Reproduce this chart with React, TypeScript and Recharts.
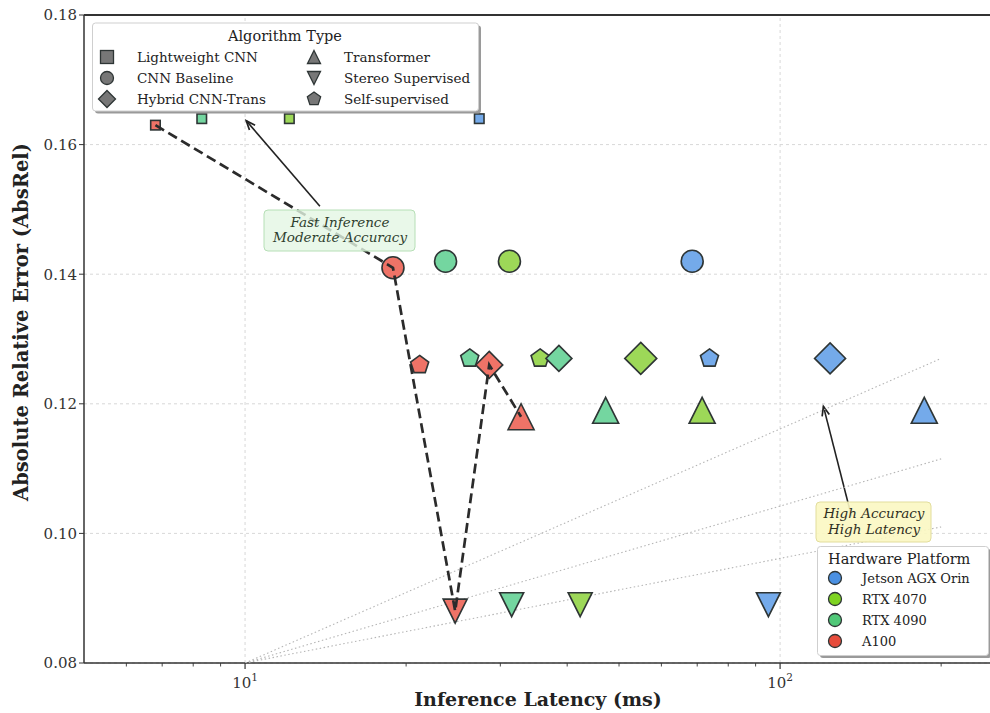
import { ScatterChart, Scatter, XAxis, YAxis, CartesianGrid, ReferenceLine } from "recharts"

const hardware = ["Jetson AGX Orin", "RTX 4070", "RTX 4090", "A100"]
const algorithms = ["Lightweight CNN", "CNN Baseline", "Hybrid CNN-Trans", "Transformer", "Stereo Supervised", "Self-supervised"]

// latency (ms) per platform, in algorithm order
const jetsonLatency = [27.4, 68.5, 124, 186, 95.1, 73.8]
const rtx4070Latency = [12.1, 31.2, 54.9, 71.5, 42.3, 35.6]
const rtx4090Latency = [8.3, 23.7, 38.6, 47.2, 31.5, 26.3]
const a100Latency = [6.8, 18.9, 28.6, 32.8, 24.7, 21.2]

// AbsRel per platform, in algorithm order
const jetsonError = [0.164, 0.142, 0.127, 0.119, 0.089, 0.127]
const rtx4070Error = [0.164, 0.142, 0.127, 0.119, 0.089, 0.127]
const rtx4090Error = [0.164, 0.142, 0.127, 0.119, 0.089, 0.127]
const a100Error = [0.163, 0.141, 0.126, 0.118, 0.088, 0.126]

// A100 front, sorted by latency
const paretoOrder = [0, 1, 4, 2, 3]
// dotted guide lines from (10, 0.08) to (200, end)
const guideStart = { x: 10, y: 0.08 }
const guideEndX = 200
const guideEndY = [0.127, 0.1115, 0.101]

const xTicks = [6, 7, 8, 9, 10, 20, 30, 40, 50, 60, 70, 80, 90, 100, 200]
const yTicks = [0.08, 0.1, 0.12, 0.14, 0.16, 0.18]

const latencies = [jetsonLatency, rtx4070Latency, rtx4090Latency, a100Latency]
const errors = [jetsonError, rtx4070Error, rtx4090Error, a100Error]

const fillColors = ["#74aaea", "#9dd858", "#74d6a0", "#ef7367"]
const legendColors = ["#4a90e2", "#7ed321", "#50c878", "#e74c3c"]
const algoKinds = ["square", "circle", "diamond", "triangle", "down", "pentagon"]
const algoSize = [9.5, 22, 28, 26, 24, 19]
const diamondSize = [31, 32, 26, 27]

const FONT = "'DejaVu Serif', serif"
const EDGE = "#2e3535"

function shapePath(kind: string, cx: number, cy: number, s: number) {
  const h = s / 2
  if (kind === "diamond") return `M${cx},${cy - h}L${cx + h},${cy}L${cx},${cy + h}L${cx - h},${cy}Z`
  if (kind === "triangle") return `M${cx},${cy - h}L${cx + h},${cy + h}L${cx - h},${cy + h}Z`
  if (kind === "down") return `M${cx},${cy + h}L${cx + h},${cy - h}L${cx - h},${cy - h}Z`
  if (kind === "pentagon") {
    let d = ""
    for (let i = 0; i < 5; i++) {
      const a = -Math.PI / 2 + (i * 2 * Math.PI) / 5
      d += (i ? "L" : "M") + (cx + h * Math.cos(a)) + "," + (cy + h * Math.sin(a))
    }
    return d + "Z"
  }
  return ""
}

function MarkerShape({ kind, cx, cy, size, fill, sw = 1.6 }: any) {
  if (kind === "circle") return <circle cx={cx} cy={cy} r={size / 2} fill={fill} stroke={EDGE} strokeWidth={sw} />
  if (kind === "square")
    return <rect x={cx - size / 2} y={cy - size / 2} width={size} height={size} fill={fill} stroke={EDGE} strokeWidth={sw} />
  return <path d={shapePath(kind, cx, cy, size)} fill={fill} stroke={EDGE} strokeWidth={sw} strokeLinejoin="miter" />
}

const renderPoint = (props: any) => {
  const { cx, cy, payload } = props
  const kind = algoKinds[payload.algo]
  const size = kind === "diamond" ? diamondSize[payload.hw] : algoSize[payload.algo]
  return <MarkerShape kind={kind} cx={cx} cy={cy} size={size} fill={fillColors[payload.hw]} />
}

const XTick = (props: any) => {
  const { x, y, payload } = props
  const v = payload.value
  const major = v === 10 || v === 100
  return (
    <g>
      <line x1={x} x2={x} y1={y} y2={y + (major ? 6 : 3.5)} stroke="#333" strokeWidth={major ? 1.2 : 0.9} />
      {major && (
        <text x={x} y={y + 25} textAnchor="middle" fontFamily={FONT} fontSize={15} fill="#333">
          10<tspan dy={-7} fontSize={10.5}>{v === 10 ? "1" : "2"}</tspan>
        </text>
      )}
    </g>
  )
}

const arrowShape = (props: any) => {
  const { x1, y1, x2, y2 } = props
  const ang = Math.atan2(y2 - y1, x2 - x1)
  const L = 10
  const a1 = ang + Math.PI - 0.38
  const a2 = ang + Math.PI + 0.38
  return (
    <g>
      <line x1={x1} y1={y1} x2={x2} y2={y2} stroke="#222" strokeWidth={1.6} />
      <polyline
        points={`${x2 + L * Math.cos(a1)},${y2 + L * Math.sin(a1)} ${x2},${y2} ${x2 + L * Math.cos(a2)},${y2 + L * Math.sin(a2)}`}
        fill="none"
        stroke="#222"
        strokeWidth={1.7}
      />
    </g>
  )
}

const noDot = () => <g />

export default function App() {
  const algoData = algorithms.map((_, ai) =>
    hardware.map((_, hi) => ({ x: latencies[hi][ai], y: errors[hi][ai], hw: hi, algo: ai }))
  )
  const pareto = paretoOrder.map((i) => ({ x: a100Latency[i], y: a100Error[i] }))
  const guides = guideEndY.map((ey) => [guideStart, { x: guideEndX, y: ey }])
  const drawOrder = [5, 0, 1, 2, 3, 4]

  return (
    <div style={{ position: "absolute", left: 0, top: 0, width: 990, height: 713, overflow: "hidden", background: "#fff" }}>
      <ScatterChart width={1000} height={713} margin={{ top: 15, right: 7, bottom: 0, left: 0 }}>
        <CartesianGrid vertical={false} stroke="#d8d8d8" strokeDasharray="3 3" />
        <ReferenceLine x={10} stroke="#d8d8d8" strokeDasharray="3 3" />
        <ReferenceLine x={100} stroke="#d8d8d8" strokeDasharray="3 3" />
        <XAxis
          type="number"
          dataKey="x"
          scale="log"
          domain={[5, 250]}
          ticks={xTicks}
          allowDataOverflow
          height={50}
          tickLine={false}
          tickSize={0}
          tickMargin={0}
          tick={<XTick />}
          axisLine={{ stroke: "#333", strokeWidth: 1.5 }}
          interval={0}
        />
        <YAxis
          type="number"
          dataKey="y"
          domain={[0.08, 0.18]}
          ticks={yTicks}
          width={84}
          tickFormatter={(v: number) => v.toFixed(2)}
          tick={{ fontFamily: FONT, fontSize: 15, fill: "#333" }}
          tickLine={{ stroke: "#333" }}
          tickSize={5}
          axisLine={{ stroke: "#333", strokeWidth: 1.5 }}
          allowDataOverflow
        />
        <ReferenceLine y={0.18} stroke="#333" strokeWidth={2} />
        {guides.map((g, i) => (
          <Scatter
            key={"g" + i}
            data={g}
            line={{ stroke: "#b5b5b5", strokeWidth: 1.1, strokeDasharray: "1.5 2.5" }}
            shape={noDot}
            isAnimationActive={false}
          />
        ))}
        {drawOrder.map((ai) => (
          <Scatter key={"a" + ai} data={algoData[ai]} shape={renderPoint} isAnimationActive={false} />
        ))}
        <Scatter
          data={pareto}
          line={{ stroke: "#2b2b2b", strokeWidth: 2.7, strokeDasharray: "10 5" }}
          shape={noDot}
          isAnimationActive={false}
        />
        <ReferenceLine
          segment={[{ x: 13.8, y: 0.1505 }, { x: 10.05, y: 0.1637 }]}
          shape={arrowShape}
          ifOverflow="visible"
        />
        <ReferenceLine
          segment={[{ x: 136, y: 0.1026 }, { x: 120.5, y: 0.1196 }]}
          shape={arrowShape}
          ifOverflow="visible"
        />
      </ScatterChart>

      <svg width={990} height={713} style={{ position: "absolute", left: 0, top: 0, pointerEvents: "none" }}>
        {/* axis titles */}
        <text x={538} y={706} textAnchor="middle" fontFamily={FONT} fontWeight="bold" fontSize={19} fill="#222">
          Inference Latency (ms)
        </text>
        <text
          x={0}
          y={0}
          transform="translate(28,322) rotate(-90)"
          textAnchor="middle"
          fontFamily={FONT}
          fontWeight="bold"
          fontSize={19.5}
          fill="#222"
        >
          Absolute Relative Error (AbsRel)
        </text>

        {/* annotation boxes */}
        <rect x={264} y={210} width={151} height={41} rx={4} fill="#e4f6e4" fillOpacity={0.8} stroke="#b6dfb6" />
        <text x={340} y={227} textAnchor="middle" fontFamily={FONT} fontStyle="italic" fontSize={13.5} fill="#2e3e2e">
          Fast Inference
        </text>
        <text x={340} y={242} textAnchor="middle" fontFamily={FONT} fontStyle="italic" fontSize={13.5} fill="#2e3e2e">
          Moderate Accuracy
        </text>
        <rect x={816} y={502} width={115} height={40} rx={4} fill="#fbf7c2" fillOpacity={0.9} stroke="#e2dd9c" />
        <text x={874} y={518} textAnchor="middle" fontFamily={FONT} fontStyle="italic" fontSize={13.5} fill="#2e2e22">
          High Accuracy
        </text>
        <text x={874} y={534} textAnchor="middle" fontFamily={FONT} fontStyle="italic" fontSize={13.5} fill="#2e2e22">
          High Latency
        </text>

        {/* algorithm legend */}
        <rect x={95} y={25.5} width={386} height={88} rx={3} fill="#9a9a9a" />
        <rect x={92.5} y={23} width={386} height={88} rx={3} fill="#fff" stroke="#cfcfcf" />
        <text x={285} y={41} textAnchor="middle" fontFamily={FONT} fontSize={14.5} fill="#222">
          Algorithm Type
        </text>
        {algorithms.map((a, i) => {
          const col = Math.floor(i / 3)
          const row = i % 3
          const mx = col === 0 ? 107 : 314
          const my = 57 + row * 21
          const kind = algoKinds[i]
          const s = kind === "circle" ? 13 : kind === "diamond" ? 17 : kind === "pentagon" ? 14 : 13
          return (
            <g key={a}>
              <MarkerShape kind={kind} cx={mx} cy={my} size={s} fill="#777" sw={1.3} />
              <text x={mx + 30} y={my + 5} fontFamily={FONT} fontSize={13.5} fill="#222">
                {a}
              </text>
            </g>
          )
        })}

        {/* hardware legend */}
        <rect x={820} y={549} width={171} height={109} rx={3} fill="#9a9a9a" />
        <rect x={817.5} y={546.5} width={171} height={109} rx={3} fill="#fff" stroke="#cfcfcf" />
        <text x={828} y={564} fontFamily={FONT} fontSize={14.5} fill="#222">
          Hardware Platform
        </text>
        {hardware.map((h, i) => (
          <g key={h}>
            <circle cx={835} cy={578 + i * 21} r={6.5} fill={legendColors[i]} stroke={EDGE} strokeWidth={1.3} />
            <text x={862} y={583 + i * 21} fontFamily={FONT} fontSize={13} fill="#222">
              {h}
            </text>
          </g>
        ))}
      </svg>
    </div>
  )
}
